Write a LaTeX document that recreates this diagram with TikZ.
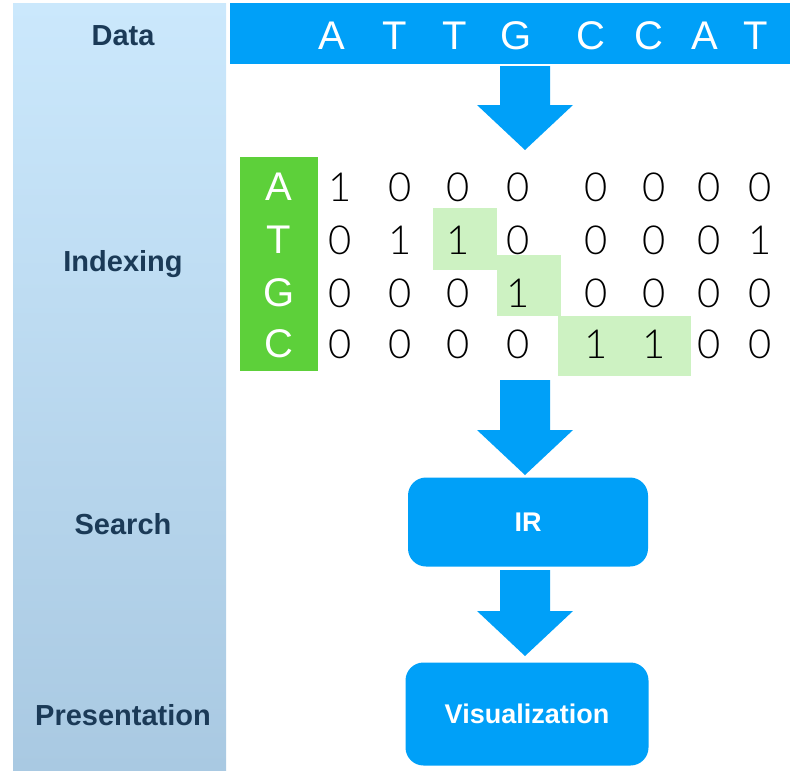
\documentclass[tikz,border=0pt]{standalone}
\usepackage{fontspec}
\setmainfont{Liberation Sans}
\newfontfamily\thinf{Lato Light}
\definecolor{skyb}{HTML}{00A0F8}
\definecolor{navy}{HTML}{1B3A57}
\definecolor{grn}{HTML}{5DD03A}
\definecolor{lgrn}{HTML}{CDF2C2}
\definecolor{pTop}{HTML}{CBE8FC}
\definecolor{pBot}{HTML}{A9C9E2}
\begin{document}
\begin{tikzpicture}[x=1pt,y=-1pt,
  lab/.style={font=\fontsize{29}{32}\selectfont\bfseries, text=navy},
  seq/.style={font=\fontsize{40}{44}\selectfont, text=white},
  dig/.style={font=\thinf\fontsize{40}{44}\selectfont, text=black},
  box/.style={fill=skyb, rounded corners=18pt, text=white, font=\fontsize{27}{30}\selectfont\bfseries},
  blockarrow/.style args={#1/#2}{insert path={(525-25,#1) -- (525+25,#1) -- (525+25,#2-45) -- (525+48,#2-45) -- (525,#2) -- (525-48,#2-45) -- (525-25,#2-45) -- cycle}}]
\useasboundingbox (0,0) rectangle (800,780);
\shade[top color=pTop, bottom color=pBot] (13,3) rectangle (226,770);
\node[lab] (ldata) at (123,36) {Data};
\node[lab] (lidx) at (123,264) {Indexing};
\node[lab] (lsearch) at (123,524) {Search};
\node[lab] (lpres) at (123,715) {Presentation};
\fill[skyb] (230,3) rectangle (790,64);
\foreach \x/\l [count=\i] in {332/A,395/T,455/T,516/G,591/C,649/C,705/A,756/T}
  \node[seq] (s\i) at (\x,36) {\l};
\fill[lgrn] (433,208) rectangle (497,270);
\fill[lgrn] (497,255) rectangle (561,316);
\fill[lgrn] (558,316) rectangle (691,376);
\fill[grn] (240,157) rectangle (318,371);
\foreach \l/\y [count=\r] in {A/187,T/240,G/293,C/344}
  \node[seq] (r\r) at (279,\y) {\l};
\foreach \x [count=\c] in {340,400,458,518,596,654,709,760}{
  \foreach \y/\vals [count=\r] in {187/{1,0,0,0,0,0,0,0},240/{0,1,1,0,0,0,0,1},293/{0,0,0,1,0,0,0,0},344/{0,0,0,0,1,1,0,0}}{
    \foreach \v [count=\k] in \vals {\ifnum\k=\c \node[dig] (m\r\c) at (\x,\y) {\v};\fi}
  }
}
\fill[skyb, blockarrow=66/150];
\fill[skyb, blockarrow=380/475];
\fill[skyb, blockarrow=570/656];
\node[box, minimum width=240pt, minimum height=89pt] (ir) at (528,522) {IR};
\node[box, minimum width=243pt, minimum height=103pt] (vis) at (527,714) {Visualization};
\end{tikzpicture}
\end{document}
